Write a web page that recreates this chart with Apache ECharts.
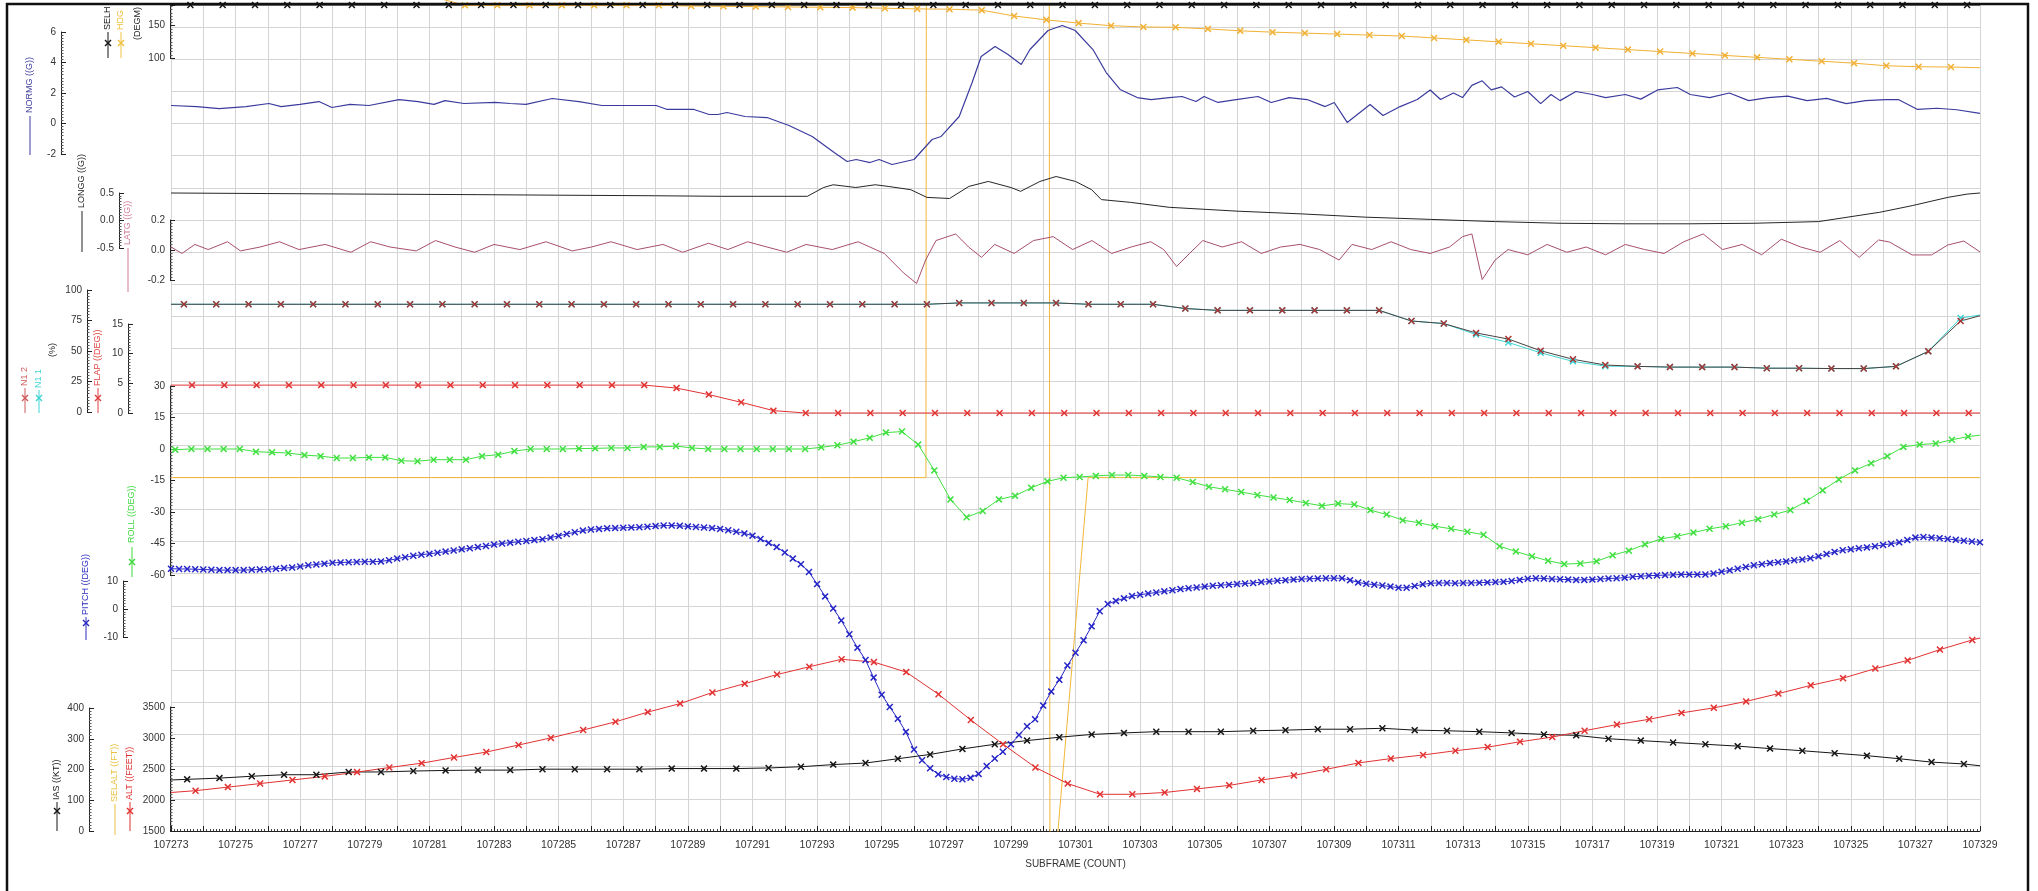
<!DOCTYPE html>
<html><head><meta charset="utf-8">
<script src="https://cdn.jsdelivr.net/npm/echarts@6/dist/echarts.min.js"></script>
<style>html,body{margin:0;padding:0;background:#fff}#c{width:2038px;height:891px}</style>
</head><body><div id="c"></div>
<script>
// ---------------- DATA ----------------
const SUBFRAME0 = 107273, SUBFRAME1 = 107329;
const xTickLabels = ['107273','107275','107277','107279','107281','107283','107285','107287','107289','107291','107293','107295','107297','107299','107301','107303','107305','107307','107309','107311','107313','107315','107317','107319','107321','107323','107325','107327','107329'];

// 1 sample / subframe series (value per subframe n = 0..55, sampled at n + phase)
const selhPhase = 0.6;
const selhValues = [182,182,182,182,182,182,182,182,182,182,182,182,182,182,182,182,182,182,182,182,182,182,182,182,182,182,182,182,182,182,182,182,182,182,182,182,182,182,182,182,182,182,182,182,182,182,182,182,182,182,182,182,182,182,182,182];
const hdgPhase = 0.1;
const hdgValues = [195,195,195,195,195,195,195,195,195,181.5,181.5,181.5,181.5,181.5,181.5,181.5,180.5,180,179.5,179,178.5,178,177,176,175.5,174,165,159,154,150,148,147.5,145,142,140,138.5,137,135.5,134,131,128,125,122,119,116,113,110,107,104,101,98,95,92,88,86.5,86];
const hdgStart = 195, hdgEnd = 85;

const n1_2Phase = 0.4;
const n1_2Values = [88.3,88.3,88.3,88.3,88.3,88.3,88.3,88.3,88.3,88.3,88.3,88.3,88.3,88.3,88.3,88.3,88.3,88.3,88.3,88.3,88.3,88.3,88.3,88.3,89.4,89.4,89.4,89.4,88.3,88.3,88.3,84.8,83.3,83.3,83.3,83.3,83.3,83.3,74.6,72.5,64.8,59.8,50.2,43.2,38.5,37.4,36.8,36.8,36.8,35.9,35.9,35.6,35.6,37.4,49.7,74.6];
const n1_2Start = 88.3, n1_2End = 78.9;
const n1_1Values = [88.3,88.3,88.3,88.3,88.3,88.3,88.3,88.3,88.3,88.3,88.3,88.3,88.3,88.3,88.3,88.3,88.3,88.3,88.3,88.3,88.3,88.3,88.3,88.3,89.4,89.4,89.4,89.4,88.3,88.3,88.3,84.8,83.3,83.3,83.3,83.3,83.3,83.3,74.6,72.5,63.5,57.0,48.5,41.5,37.6,37.4,36.8,36.8,36.8,35.9,35.9,35.6,35.6,37.4,49.7,77.0];
const n1_1Start = 88.3, n1_1End = 79.5;

const flapPhase = 0.65;
const flapValues = [4.7,4.7,4.7,4.7,4.7,4.7,4.7,4.7,4.7,4.7,4.7,4.7,4.7,4.7,4.7,4.2,3.1,1.8,0.4,0,0,0,0,0,0,0,0,0,0,0,0,0,0,0,0,0,0,0,0,0,0,0,0,0,0,0,0,0,0,0,0,0,0,0,0,0];
const flapStart = 4.7, flapEnd = 0;

const iasPhase = 0.5;
const iasValues = [168,172,178,183,183,192,192,195,197,198,198,201,201,201,201,203,203,203,205,209,216,221,235,249,267,282,294,305,314,319,323,323,323,326,328,331,331,334,328,326,323,319,314,311,300,294,288,282,276,268,261,253,245,235,224,218];
const iasStart = 166, iasEnd = 212;

const altPhase = 0.76;
const altValues = [2150,2208,2265,2323,2381,2450,2524,2594,2686,2773,2887,3002,3129,3261,3418,3555,3734,3877,4023,4149,4270,4224,4063,3705,3290,2898,2524,2265,2092,2092,2121,2179,2236,2323,2397,2495,2598,2668,2726,2795,2853,2939,3015,3118,3216,3302,3405,3486,3590,3716,3849,3965,4120,4252,4426,4581];
const altStart = 2121, altEnd = 4613;

// 2 samples / subframe
const rollPhase = 0.13, rollStep = 0.5;
const rollValues = [-0.3,0,0,0,0,-1.3,-1.6,-1.9,-2.9,-3.4,-4.3,-4.3,-4.0,-4.0,-5.6,-5.8,-5.1,-5.1,-5.1,-3.4,-2.7,-1.0,0,0,0,0.2,0.3,0.5,0.5,1.0,1.0,1.4,0.5,0,0,0,0,0,0,0,0.8,1.8,3.5,5.3,7.8,8.3,2.1,-10.2,-24,-32.5,-29.5,-24,-22.3,-18.5,-15.4,-13.7,-13.3,-12.8,-12.4,-12.4,-12.8,-13.3,-13.7,-15.7,-18,-19.2,-20.5,-21.9,-23.1,-24.3,-25.7,-27.1,-26,-26.4,-29.1,-31.2,-33.9,-35.1,-36.8,-38,-39.4,-40.8,-46.3,-48.8,-51.1,-53.2,-54.8,-54.5,-53.5,-50.6,-48.4,-45.4,-42.8,-41.5,-39.8,-38,-36.8,-35.1,-33.4,-31.2,-29.1,-24.8,-19.7,-14.5,-10.2,-6.8,-3.4,1,2.1,2.6,4.4,5.9];
const rollStart = -0.3, rollEnd = 6.6;

// 4 samples / subframe
const pitchPhase = 0, pitchStep = 0.25;
const pitchValues = [
14.4,14.3,14.3,14.2, 14.1,14.0,13.9,13.9, 13.9,13.9,14.0,14.1, 14.2,14.4,14.6,14.8,
15.2,15.6,15.9,16.2, 16.5,16.6,16.7,16.8, 16.9,16.9,17.0,17.4, 18.0,18.5,19.0,19.4,
19.7,20.1,20.5,20.9, 21.3,21.7,22.1,22.5, 23.0,23.4,23.7,24.0, 24.3,24.6,24.9,25.5,
26.1,26.8,27.4,28.0, 28.4,28.6,28.8,28.9, 29.0,29.1,29.2,29.4, 29.6,29.8,29.8,29.7,
29.5,29.3,29.1,28.9, 28.6,28.1,27.6,27.0, 26.2,25.0,23.6,22.1, 20.2,18.0,16.0,13.2,
8.9,4.5,0.2,-4.1, -9.0,-13.8,-18.2,-24.5, -30.6,-35.0,-39.2,-43.9, -50.2,-54.0,-56.9,-59.0,
-60.0,-60.6,-60.8,-60.3, -58.9,-56.1,-53.4,-51.0, -48.3,-45.0,-41.9,-39.4, -34.5,-29.5,-25.3,-20.2,
-15.6,-11.2,-6.2,-0.8, 1.8,2.9,3.8,4.6, 5.1,5.5,5.9,6.3, 6.7,7.1,7.4,7.7,
8.0,8.3,8.5,8.7, 8.9,9.1,9.3,9.6, 9.8,10.1,10.3,10.5, 10.7,10.8,10.9,11.0,
11.0,11.0,10.3,9.5, 9.0,8.7,8.4,8.0, 7.6,7.6,8.2,8.8, 9.2,9.3,9.3,9.2,
9.3,9.3,9.4,9.5, 9.6,9.7,10.0,10.4, 10.8,11.0,10.9,10.7, 10.6,10.5,10.4,10.4,
10.5,10.7,10.9,11.0, 11.2,11.5,11.7,11.9, 12.0,12.1,12.2,12.3, 12.3,12.3,12.3,12.7,
13.3,13.8,14.4,15.0, 15.6,16.0,16.4,16.7, 17.0,17.4,17.7,18.1, 18.8,19.6,20.4,21.0,
21.3,21.7,22.0,22.4, 22.9,23.3,23.8,24.6, 25.5,25.7,25.5,25.3, 25.0,24.7,24.4,24.1,
23.8];

// irregular readings: [subframe offset from SUBFRAME0, value]
const normgSamples = [[0,1.18],[0.8,1.11],[1.49,0.98],[2.32,1.11],[3.03,1.31],[3.41,1.11],[3.99,1.25],[4.58,1.44],[4.98,1.05],[5.54,1.25],[6.13,1.18],[7.06,1.57],[7.65,1.44],[8.14,1.25],[8.48,1.5],[9.07,1.31],[10.03,1.38],[10.5,1.31],[10.99,1.25],[11.8,1.64],[12.63,1.44],[13.34,1.18],[14.06,1.18],[15.02,1.18],[15.36,0.92],[16.19,0.92],[16.66,0.59],[16.93,0.59],[17.21,0.72],[17.77,0.46],[18.45,0.39],[19.13,-0.13],[19.85,-0.85],[20.53,-1.9],[20.93,-2.49],[21.21,-2.36],[21.64,-2.56],[21.92,-2.36],[22.32,-2.69],[23.0,-2.36],[23.56,-1.05],[23.84,-0.85],[24.4,0.46],[24.8,2.69],[25.08,4.39],[25.51,5.05],[25.91,4.52],[26.32,3.87],[26.59,4.85],[27.15,6.1],[27.59,6.43],[27.99,6.1],[28.54,4.85],[28.95,3.34],[29.38,2.23],[29.91,1.7],[30.34,1.57],[30.9,1.7],[31.3,1.77],[31.73,1.44],[31.98,1.77],[32.41,1.38],[32.97,1.57],[33.65,1.77],[34.06,1.38],[34.61,1.7],[35.17,1.57],[35.73,1.11],[36.01,1.38],[36.41,0.07],[37.12,1.25],[37.52,0.52],[38.05,1.11],[38.58,1.57],[38.98,2.2],[39.3,1.57],[39.7,2.0],[39.98,1.7],[40.27,2.5],[40.59,2.8],[40.87,2.2],[41.19,2.4],[41.59,1.74],[42.0,2.1],[42.4,1.3],[42.72,1.9],[43.0,1.5],[43.49,2.1],[44.01,1.9],[44.41,1.7],[45.02,1.9],[45.5,1.6],[46.02,2.2],[46.63,2.36],[47.03,1.9],[47.63,1.7],[48.24,2.0],[48.84,1.5],[49.44,1.7],[50.05,1.8],[50.65,1.5],[51.25,1.65],[51.86,1.3],[52.46,1.5],[53.07,1.57],[53.47,1.57],[54.07,0.92],[54.67,1.0],[55.28,0.9],[56,0.66]];

const longgSamples = [[0,0.5],[3,0.49],[6,0.48],[9.5,0.47],[12,0.46],[15,0.45],[17,0.44],[19.7,0.44],[20.2,0.6],[20.5,0.65],[21.2,0.6],[21.8,0.65],[22.2,0.62],[22.9,0.56],[23.4,0.42],[24.1,0.4],[24.7,0.62],[25.3,0.71],[26.0,0.6],[26.3,0.53],[26.9,0.71],[27.4,0.8],[28.0,0.71],[28.5,0.56],[28.8,0.38],[29.7,0.33],[30.9,0.24],[33,0.17],[35,0.12],[37,0.06],[39,0.02],[41,-0.02],[43,-0.05],[45,-0.06],[47,-0.06],[49,-0.05],[51,-0.02],[52.9,0.15],[53.9,0.27],[55.0,0.42],[55.6,0.48],[56,0.5]];

const latgSamples = [[0,0.02],[0.34,-0.023],[0.74,0.037],[1.15,0.003],[1.75,0.055],[2.15,-0.006],[2.76,0.02],[3.36,0.055],[3.96,0.003],[4.77,0.037],[5.57,-0.015],[6.18,0.055],[6.78,0.02],[7.59,-0.006],[8.19,0.063],[8.79,0.02],[9.4,-0.015],[10.0,0.037],[10.8,0.003],[11.61,0.055],[12.42,-0.006],[13.02,0.02],[13.62,0.055],[14.43,0.003],[15.23,0.037],[15.84,-0.015],[16.64,0.045],[17.24,0.003],[17.85,0.055],[18.45,0.02],[19.06,-0.015],[19.66,0.037],[20.47,0.003],[21.27,0.055],[22.08,-0.023],[22.68,-0.153],[23.08,-0.223],[23.36,-0.067],[23.68,0.063],[24.29,0.107],[24.69,0.02],[25.09,-0.049],[25.5,0.037],[26.1,-0.023],[26.7,0.063],[27.31,0.089],[27.91,0.003],[28.51,0.063],[29.12,-0.023],[29.72,0.02],[30.33,0.055],[30.73,0.003],[31.13,-0.11],[31.53,-0.023],[31.94,0.063],[32.54,0.02],[33.14,0.055],[33.75,-0.023],[34.35,0.02],[34.95,0.037],[35.56,0.003],[36.16,-0.067],[36.56,0.037],[37.17,0.003],[37.77,0.055],[38.38,0.003],[38.98,-0.023],[39.58,0.02],[39.98,0.089],[40.27,0.107],[40.59,-0.197],[40.99,-0.067],[41.39,0.003],[42.0,-0.032],[42.6,0.037],[43.21,-0.015],[43.81,0.02],[44.41,-0.032],[45.02,0.037],[45.62,0.003],[46.22,-0.023],[46.83,0.055],[47.43,0.107],[48.03,0.003],[48.64,0.037],[49.24,-0.032],[49.85,0.072],[50.45,0.02],[51.05,-0.015],[51.66,0.063],[52.26,-0.049],[52.86,0.067],[53.2,0.053],[53.9,-0.033],[54.5,-0.033],[55.0,0.033],[55.5,0.06],[56.0,-0.013]];

const selaltSamples = [[0,7200],[23.37,7200],[23.39,20000],[27.18,20000],[27.21,0],[28.39,7200],[56,7200]];

// ---------------- LAYOUT / STYLE ----------------
const W = 2038, H = 891;
const PL = 171, PR = 1980, PT = 5, PB = 831, GRID_STEP = 32.16;
const FONT = '"Liberation Sans", Arial, sans-serif';
const PANELS = [
  {key:'hdg',   top:5,   bottom:58,  min:100,  max:182,  interval:50,  axisX:170, dec:0},
  {key:'normg', top:32,  bottom:154, min:-2,   max:6,    interval:2,   axisX:61,  dec:0},
  {key:'longg', top:193, bottom:248, min:-0.5, max:0.5,  interval:0.5, axisX:119, dec:1},
  {key:'latg',  top:220, bottom:280, min:-0.2, max:0.2,  interval:0.2, axisX:170, dec:1},
  {key:'n1',    top:290, bottom:412, min:0,    max:100,  interval:25,  axisX:87,  dec:0},
  {key:'flap',  top:324, bottom:413, min:0,    max:15,   interval:5,   axisX:128, dec:0},
  {key:'roll',  top:386, bottom:575, min:-60,  max:30,   interval:15,  axisX:170, dec:0},
  {key:'pitch', top:581, bottom:637, min:-10,  max:10,   interval:10,  axisX:123, dec:0},
  {key:'ias',   top:708, bottom:831, min:0,    max:400,  interval:100, axisX:89,  dec:0},
  {key:'alt',   top:707, bottom:831, min:1500, max:3500, interval:500, axisX:170, dec:0}
];
const PI = {}; PANELS.forEach((p,i)=>PI[p.key]=i+1);
const XSYM = 'path://M0,1.5L1.5,0L5,3.5L8.5,0L10,1.5L6.5,5L10,8.5L8.5,10L5,6.5L1.5,10L0,8.5L3.5,5Z';
const COL = {selh:'#151515', hdg:'#f2b134', normg:'#3b3b9e', longg:'#262626', latg:'#a8506c',
  n12:'#a83232', n12line:'#4a4242', n11:'#3fd4d4', flap:'#e23232', roll:'#3fe03f', pitch:'#2626c8',
  ias:'#151515', selalt:'#f2b73a', alt:'#e23232'};

// ---------------- BUILD ----------------
function regular(values, phase, step, startVal, endVal){
  const d = [];
  if (startVal !== undefined) d.push({value:[SUBFRAME0, startVal], symbol:'none'});
  values.forEach((v,i)=>d.push([SUBFRAME0 + phase + i*step, v]));
  if (endVal !== undefined) d.push({value:[SUBFRAME1, endVal], symbol:'none'});
  return d;
}
function irregular(samples){ return samples.map(s=>[SUBFRAME0 + s[0], s[1]]); }

const grids = [], xAxes = [], yAxes = [];
grids.push({left:PL, right:W-PR, top:PT, height:PB-PT, outerBoundsMode:'none'});
xAxes.push({gridIndex:0, type:'value', min:SUBFRAME0, max:SUBFRAME1, interval:1, position:'bottom',
  axisLine:{show:true, onZero:false, lineStyle:{color:'#222', width:1}},
  axisTick:{show:true, inside:true, length:5, lineStyle:{color:'#222'}},
  minorTick:{show:true, splitNumber:10, length:2, lineStyle:{color:'#444'}},
  axisLabel:{fontSize:10.5, color:'#333', margin:9, fontFamily:FONT,
    formatter:v=>{const s=String(Math.round(v)); return xTickLabels.indexOf(s)>=0?s:'';}},
  splitLine:{show:true, lineStyle:{color:'#d4d4d4', width:1}},
  name:'SUBFRAME (COUNT)', nameLocation:'middle', nameGap:28,
  nameTextStyle:{fontSize:10, color:'#333', fontFamily:FONT}});
yAxes.push({gridIndex:0, type:'value', min:0, max:(PB-PT)/GRID_STEP, interval:1,
  axisLine:{show:false}, axisTick:{show:false}, axisLabel:{show:false},
  splitLine:{show:true, lineStyle:{color:'#d4d4d4', width:1}}});

PANELS.forEach((p,i)=>{
  grids.push({left:PL, right:W-PR, top:p.top, height:p.bottom-p.top, outerBoundsMode:'none'});
  xAxes.push({gridIndex:i+1, type:'value', min:SUBFRAME0, max:SUBFRAME1, show:false});
  yAxes.push({gridIndex:i+1, type:'value', min:p.min, max:p.max, interval:p.interval,
    position:'left', offset:PL-p.axisX,
    axisLine:{show:true, lineStyle:{color:'#222', width:1}},
    axisTick:{show:true, inside:true, length:5, lineStyle:{color:'#222'}},
    minorTick:{show:true, splitNumber:10, length:2.5, lineStyle:{color:'#555'}},
    splitLine:{show:false},
    axisLabel:{fontSize:10, color:'#333', margin:5, fontFamily:FONT,
      formatter:v=>{const k=(v-p.min)/p.interval; if(Math.abs(k-Math.round(k))>1e-6) return '';
        let r=p.min+Math.round(k)*p.interval; if(Math.abs(r)<1e-9) r=0; return r.toFixed(p.dec);}}
  });
});
// full-height grid for SELALT (on the ALT scale, clipped to the plot)
const altP = PANELS[PI.alt-1];
const altPerPx = (altP.max-altP.min)/(altP.bottom-altP.top);
grids.push({left:PL, right:W-PR, top:PT, height:PB-PT, outerBoundsMode:'none'});
xAxes.push({gridIndex:PANELS.length+1, type:'value', min:SUBFRAME0, max:SUBFRAME1, show:false});
yAxes.push({gridIndex:PANELS.length+1, type:'value', min:altP.min, max:altP.min+(PB-PT)*altPerPx, show:false});
const SELIDX = PANELS.length+1;

function ser(name, idx, data, color, o){
  return Object.assign({type:'line', name, xAxisIndex:idx, yAxisIndex:idx, data, clip:false,
    animation:false, silent:true, symbol:XSYM, symbolSize:7, showAllSymbol:true, z:3,
    lineStyle:{color, width:1}, itemStyle:{color}, emphasis:{disabled:true}}, o||{});
}
const series = [
  ser('SELALT', SELIDX, irregular(selaltSamples), COL.selalt, {clip:true, symbol:'none', z:2}),
  ser('SELH', PI.hdg, regular(selhValues, selhPhase, 1, 182, 182), COL.selh),
  ser('HDG', PI.hdg, regular(hdgValues, hdgPhase, 1, hdgStart, hdgEnd), COL.hdg),
  ser('NORMG', PI.normg, irregular(normgSamples), COL.normg, {symbol:'none', lineStyle:{color:COL.normg, width:1.2}}),
  ser('LONGG', PI.longg, irregular(longgSamples), COL.longg, {symbol:'none'}),
  ser('LATG', PI.latg, irregular(latgSamples), COL.latg, {symbol:'none'}),
  ser('N1 1', PI.n1, regular(n1_1Values, n1_2Phase, 1, n1_1Start, n1_1End), COL.n11),
  ser('N1 2', PI.n1, regular(n1_2Values, n1_2Phase, 1, n1_2Start, n1_2End), COL.n12, {lineStyle:{color:COL.n12line, width:1}}),
  ser('FLAP', PI.flap, regular(flapValues, flapPhase, 1, flapStart, flapEnd), COL.flap),
  ser('ROLL', PI.roll, regular(rollValues, rollPhase, rollStep, rollStart, rollEnd), COL.roll),
  ser('PITCH', PI.pitch, regular(pitchValues, pitchPhase, pitchStep), COL.pitch),
  ser('IAS', PI.ias, regular(iasValues, iasPhase, 1, iasStart, iasEnd), COL.ias),
  ser('ALT', PI.alt, regular(altValues, altPhase, 1, altStart, altEnd), COL.alt)
];

// legend-like vertical titles
function legendItem(x, textBottom, text, color, lineTop, lineBottom, markerY){
  const els = [];
  if (lineTop !== undefined) els.push({type:'line', shape:{x1:x, y1:lineTop, x2:x, y2:lineBottom}, style:{stroke:color, lineWidth:1}, z:50});
  if (markerY !== undefined) {
    els.push({type:'line', shape:{x1:x-3, y1:markerY-3, x2:x+3, y2:markerY+3}, style:{stroke:color, lineWidth:1.4}, z:50});
    els.push({type:'line', shape:{x1:x+3, y1:markerY-3, x2:x-3, y2:markerY+3}, style:{stroke:color, lineWidth:1.4}, z:50});
  }
  els.push({type:'text', x:x, y:textBottom, rotation:Math.PI/2, z:50,
    style:{text, fill:color, font:'9px '+FONT, align:'left', verticalAlign:'middle'}});
  return els;
}
const graphics = [].concat(
  legendItem(108, 30, 'SELH', '#151515', 32, 58, 43),
  legendItem(121, 30, 'HDG', '#f0c040', 32, 58, 43),
  legendItem(138, 40, '(DEGM)', '#222'),
  legendItem(30, 113, 'NORMG ((G))', '#3b3b9e', 116, 155),
  legendItem(82, 208, 'LONGG ((G))', '#222', 211, 252),
  legendItem(128, 245, 'LATG ((G))', '#d27a9a', 248, 292),
  legendItem(25, 386, 'N1 2', '#d05a5a', 388, 413, 398),
  legendItem(39, 388, 'N1 1', '#3fd4d4', 390, 413, 398),
  legendItem(53, 357, '(%)', '#222'),
  legendItem(98, 386, 'FLAP ((DEG))', '#e04040', 388, 413, 398),
  legendItem(132, 543, 'ROLL ((DEG))', '#3fd83f', 547, 577, 562),
  legendItem(86, 615, 'PITCH ((DEG))', '#2a2ac0', 617, 640, 623),
  legendItem(57, 800, 'IAS ((KT))', '#151515', 802, 831, 811),
  legendItem(115, 802, 'SELALT ((FT))', '#e8c040', 804, 835),
  legendItem(130, 800, 'ALT ((FEET))', '#e03030', 802, 831, 811),
  [
    {type:'line', shape:{x1:7, y1:3, x2:7, y2:H}, style:{stroke:'#111', lineWidth:2.5}, z:100},
    {type:'line', shape:{x1:6, y1:4, x2:2029, y2:4}, style:{stroke:'#111', lineWidth:2.5}, z:100},
    {type:'line', shape:{x1:2028, y1:3, x2:2028, y2:H}, style:{stroke:'#111', lineWidth:2.5}, z:100}
  ]
);

const chart = echarts.init(document.getElementById('c'), null, {renderer:'canvas', width:W, height:H});
chart.setOption({
  animation:false, backgroundColor:'#ffffff',
  textStyle:{fontFamily:FONT},
  grid:grids, xAxis:xAxes, yAxis:yAxes, series, graphic:graphics
});
</script></body></html>
